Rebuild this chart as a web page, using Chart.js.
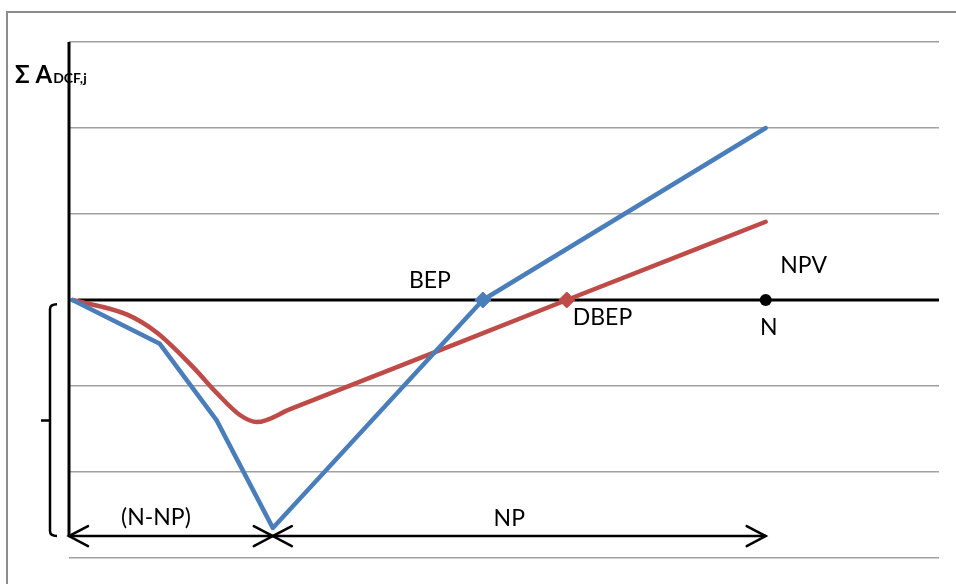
<!DOCTYPE html>
<html>
<head>
<meta charset="utf-8">
<title>Break-even points of cumulative cash flows</title>
<script src="https://cdn.jsdelivr.net/npm/chart.js@4/dist/chart.umd.min.js"></script>
<style>
  html, body { margin: 0; padding: 0; background: #ffffff; }
  #wrap { width: 956px; height: 584px; }
</style>
</head>
<body>
<div id="wrap"><canvas id="c" width="956" height="584"></canvas></div>
<script>
// Time axis (years) and cumulative cash flow values
const cfYears  = [0, 1.26, 2.08, 2.89, 5.92, 10];
const cfValues = [0, -0.51, -1.40, -2.65, 0, 2.0];          // Σ A_CF,j (undiscounted)
const dcfYears  = [0, 0.79, 1.22, 1.74, 2.08, 2.42, 2.66, 3.14, 7.13, 10];
const dcfValues = [0, -0.17, -0.38, -0.78, -1.08, -1.34, -1.42, -1.27, 0, 0.91]; // Σ A_DCF,j (discounted)
const bepIndex = 4;     // undiscounted break-even point
const dbepIndex = 8;    // discounted break-even point
const lifeN = 10;       // project life N
const troughYear = 2.89; // end of the investment period (N-NP)
const yTicks = [-3, -2, -1, 0, 1, 2, 3];

const BLUE = '#4a7ebb';
const RED = '#be4b48';
const FONT = 'Lato, "Open Sans", sans-serif';

function pts(xs, ys) { return xs.map((x, i) => ({ x, y: ys[i] })); }

const annotations = {
  id: 'annotations',
  beforeDraw(chart) {
    const ctx = chart.ctx;
    ctx.save();
    ctx.fillStyle = '#ffffff';
    ctx.fillRect(0, 0, chart.width, chart.height);
    ctx.restore();
  },
  afterDatasetsDraw(chart) {
    const ctx = chart.ctx;
    const xs = chart.scales.x, ys = chart.scales.y;
    const area = chart.chartArea;
    const X = v => xs.getPixelForValue(v);
    const Y = v => ys.getPixelForValue(v);
    ctx.save();

    // outer frame
    ctx.strokeStyle = '#8c8c8c';
    ctx.lineWidth = 2;
    ctx.beginPath();
    ctx.moveTo(chart.width, 12);
    ctx.lineTo(7, 12);
    ctx.lineTo(7, chart.height);
    ctx.stroke();

    const arrowY = Y(-2.745);
    const x0 = X(-0.05), xT = X(troughYear), xN = X(lifeN);

    // vertical value axis
    ctx.strokeStyle = '#000';
    ctx.lineWidth = 3;
    ctx.beginPath();
    ctx.moveTo(x0, area.top);
    ctx.lineTo(x0, arrowY);
    ctx.stroke();

    // period arrows
    ctx.lineWidth = 2.5;
    ctx.lineCap = 'round';
    ctx.beginPath();
    ctx.moveTo(x0, arrowY);
    ctx.lineTo(xN, arrowY);
    ctx.stroke();
    function head(tipX, dir) {
      ctx.beginPath();
      ctx.moveTo(tipX + dir * 19, arrowY - 10);
      ctx.lineTo(tipX, arrowY);
      ctx.lineTo(tipX + dir * 19, arrowY + 10);
      ctx.stroke();
    }
    head(x0, 1);
    head(xT, -1);
    head(xT, 1);
    head(xN, -1);

    // bracket on the negative range
    const bx = x0 - 19, bTop = Y(-0.05), bBot = arrowY, bMid = Y(-1.40);
    ctx.lineWidth = 2.5;
    ctx.lineCap = 'butt';
    ctx.beginPath();
    ctx.moveTo(bx + 7, bTop);
    ctx.quadraticCurveTo(bx, bTop, bx, bTop + 5);
    ctx.lineTo(bx, bBot - 5);
    ctx.quadraticCurveTo(bx, bBot, bx + 7, bBot);
    ctx.moveTo(bx, bMid);
    ctx.lineTo(bx - 9, bMid);
    ctx.stroke();

    // labels
    ctx.fillStyle = '#000';
    ctx.textBaseline = 'alphabetic';
    ctx.font = '23px ' + FONT;
    const bep = chart.getDatasetMeta(0).data[bepIndex];
    const dbep = chart.getDatasetMeta(1).data[dbepIndex];
    ctx.textAlign = 'center';
    ctx.fillText('BEP', bep.x - 53, bep.y - 12);
    ctx.textAlign = 'left';
    ctx.fillText('DBEP', dbep.x + 6, dbep.y + 25);
    ctx.textAlign = 'center';
    ctx.fillText('NPV', xN + 38, Y(0) - 27);
    ctx.fillText('N', xN + 3, Y(0) + 35);
    ctx.fillText('(N-NP)', (x0 + xT) / 2 - 15, arrowY - 11);
    ctx.fillText('NP', (xT + xN) / 2 - 10, arrowY - 10);

    // value axis title
    ctx.textAlign = 'left';
    ctx.font = 'bold 24px ' + FONT;
    const tx = x0 - 54, tb = area.top + 41;
    ctx.fillText('Σ A', tx, tb);
    const w = ctx.measureText('Σ A').width;
    ctx.font = 'bold 14px ' + FONT;
    ctx.fillText('DCF,j', tx + w + 1, tb);

    ctx.restore();
  }
};

new Chart(document.getElementById('c'), {
  type: 'line',
  data: {
    datasets: [
      {
        label: 'Σ A_CF,j',
        data: pts(cfYears, cfValues),
        borderColor: BLUE,
        backgroundColor: BLUE,
        borderWidth: 4.5,
        borderCapStyle: 'round',
        borderJoinStyle: 'round',
        tension: 0,
        pointStyle: 'rectRot',
        pointRadius: ctx => ctx.dataIndex === bepIndex ? 8 : 0,
        pointBorderWidth: 1,
        order: 1
      },
      {
        label: 'Σ A_DCF,j',
        data: pts(dcfYears, dcfValues),
        borderColor: RED,
        backgroundColor: RED,
        borderWidth: 4.5,
        borderCapStyle: 'round',
        borderJoinStyle: 'round',
        cubicInterpolationMode: 'monotone',
        pointStyle: 'rectRot',
        pointRadius: ctx => ctx.dataIndex === dbepIndex ? 8 : 0,
        pointBorderWidth: 1,
        order: 1
      },
      {
        label: 'NPV = 0',
        data: [{ x: 0.08, y: 0 }, { x: 12.5, y: 0 }],
        borderColor: '#000',
        borderWidth: 3,
        pointRadius: 0,
        order: 3
      },
      {
        label: 'N',
        data: [{ x: lifeN, y: 0 }],
        showLine: false,
        pointStyle: 'circle',
        pointRadius: 6,
        backgroundColor: '#000',
        borderColor: '#000',
        borderWidth: 0,
        order: 0
      }
    ]
  },
  options: {
    responsive: false,
    animation: false,
    layout: { padding: { left: 69, right: 17, top: 42, bottom: 26 } },
    plugins: { legend: { display: false }, tooltip: { enabled: false } },
    scales: {
      x: {
        type: 'linear',
        display: false,
        min: -0.05,
        max: 12.5
      },
      y: {
        min: -3,
        max: 3,
        afterBuildTicks: axis => { axis.ticks = yTicks.map(v => ({ value: v })); },
        ticks: { display: false },
        grid: {
          color: ctx => ctx.tick && ctx.tick.value === 0 ? 'rgba(0,0,0,0)' : '#a0a0a0',
          lineWidth: 1.5,
          drawTicks: false
        },
        border: { display: false }
      }
    }
  },
  plugins: [annotations]
});
</script>
</body>
</html>
